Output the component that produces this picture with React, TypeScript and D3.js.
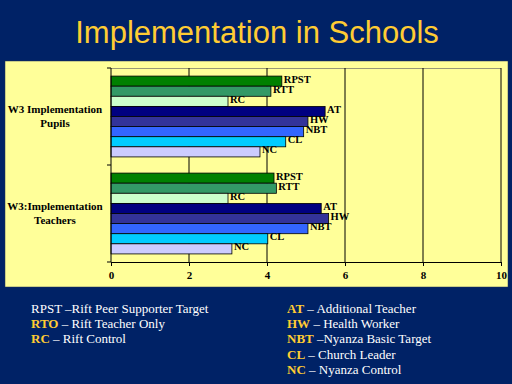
import React, { useRef, useEffect } from "react";
import * as d3 from "d3";

const groups = ["W3 Implementation|Pupils", "W3:Implementation|Teachers"];
const series = ["RPST", "RTT", "RC", "AT", "HW", "NBT", "CL", "NC"];
const colors = ["#008000", "#339966", "#CCFFCC", "#000080", "#333399", "#3366FF", "#00CCFF", "#CCCCFF"];
const pupils = [4.38, 4.1, 3.0, 5.49, 5.05, 4.94, 4.48, 3.82];
const teachers = [4.18, 4.24, 3.0, 5.39, 5.58, 5.05, 4.02, 3.1];
const xTicks = [0, 2, 4, 6, 8, 10];

const legendLeft = [
  ["", "RPST –Rift Peer Supporter Target"],
  ["RTO", " – Rift Teacher Only"],
  ["RC", " – Rift Control"],
];
const legendRight = [
  ["AT", " –  Additional Teacher"],
  ["HW", " – Health Worker"],
  ["NBT", " –Nyanza Basic Target"],
  ["CL", " –   Church Leader"],
  ["NC", " –   Nyanza Control"],
];

const SERIF = "'Liberation Serif', 'Times New Roman', serif";

const App = () => {
  const ref = useRef(null);

  useEffect(() => {
    const svg = d3.select(ref.current);
    svg.selectAll("*").remove();

    svg.append("rect").attr("width", 512).attr("height", 384).attr("fill", "#002266");

    // title
    svg
      .append("text")
      .attr("x", 257)
      .attr("y", 43)
      .attr("text-anchor", "middle")
      .style("font-family", "'Liberation Sans', Arial, sans-serif")
      .attr("font-size", 31)
      .attr("fill", "#FFCC33")
      .text("Implementation in Schools");

    // chart panel
    svg
      .append("rect")
      .attr("x", 5)
      .attr("y", 61)
      .attr("width", 503)
      .attr("height", 226)
      .attr("fill", "#FFFF99")
      .attr("stroke", "#223355")
      .attr("stroke-width", 0.5);

    const x = d3.scaleLinear().domain([0, 10]).range([111, 501]);
    const y = d3.scaleBand().domain(groups).range([68, 262]);
    const inner = d3
      .scaleBand()
      .domain(series)
      .range([0, y.bandwidth()])
      .paddingOuter(0.8);

    const chart = svg.append("g");

    // plot area top border
    chart
      .append("line")
      .attr("x1", x(0))
      .attr("x2", x(10))
      .attr("y1", 68.5)
      .attr("y2", 68.5)
      .attr("stroke", "#999977");

    // gridlines
    chart
      .selectAll(".grid")
      .data(xTicks.slice(1))
      .enter()
      .append("line")
      .attr("x1", (d) => x(d))
      .attr("x2", (d) => x(d))
      .attr("y1", 68)
      .attr("y2", 262)
      .attr("stroke", "#000")
      .attr("stroke-width", 1);

    const data = [pupils, teachers];
    groups.forEach((g, gi) => {
      const gg = chart.append("g").attr("transform", `translate(0,${y(g)})`);
      series.forEach((s, i) => {
        const v = data[gi][i];
        gg.append("rect")
          .attr("x", x(0))
          .attr("y", inner(s))
          .attr("width", x(v) - x(0))
          .attr("height", inner.bandwidth())
          .attr("fill", colors[i])
          .attr("stroke", "#000")
          .attr("stroke-width", 0.8);
        gg.append("text")
          .attr("x", x(v) + 2)
          .attr("y", inner(s) + inner.bandwidth() / 2 + 1.5)
          .style("font-family", SERIF)
          .attr("font-weight", "bold")
          .attr("font-size", 10.5)
          .attr("fill", "#000")
          .text(s);
      });
      const [l1, l2] = g.split("|");
      const cy = y(g) + y.bandwidth() / 2;
      const t = chart
        .append("text")
        .attr("text-anchor", "middle")
        .style("font-family", SERIF)
        .attr("font-weight", "bold")
        .attr("font-size", 11)
        .attr("fill", "#000");
      t.append("tspan").attr("x", 55).attr("y", cy - 4).text(l1);
      t.append("tspan").attr("x", 55).attr("y", cy + 10).text(l2);
    });

    // y axis
    chart
      .append("line")
      .attr("x1", x(0))
      .attr("x2", x(0))
      .attr("y1", 68)
      .attr("y2", 262)
      .attr("stroke", "#000");
    chart
      .selectAll(".ytick")
      .data([68, y(groups[1]), 262])
      .enter()
      .append("line")
      .attr("x1", x(0) - 4)
      .attr("x2", x(0))
      .attr("y1", (d) => d)
      .attr("y2", (d) => d)
      .attr("stroke", "#000");

    // x axis
    const xAxis = chart
      .append("g")
      .attr("transform", "translate(0,262)")
      .call(d3.axisBottom(x).tickValues(xTicks).tickSize(4).tickSizeOuter(0));
    xAxis.select(".domain").attr("stroke", "#000");
    xAxis.selectAll("line").attr("stroke", "#000");
    xAxis
      .selectAll("text")
      .style("font-family", SERIF)
      .attr("font-weight", "bold")
      .attr("font-size", 11)
      .attr("fill", "#000")
      .attr("dy", "0.9em");

    // legend
    const drawLegend = (items, lx) => {
      items.forEach(([abbr, rest], i) => {
        const t = svg
          .append("text")
          .attr("x", lx)
          .attr("y", 313 + i * 15.2)
          .style("font-family", SERIF)
          .attr("font-size", 13);
        if (abbr)
          t.append("tspan").attr("font-weight", "bold").attr("fill", "#FFCC33").text(abbr);
        t.append("tspan").attr("fill", "#FFFFFF").text(rest);
      });
    };
    drawLegend(legendLeft, 31);
    drawLegend(legendRight, 287);
  }, []);

  return (
    <svg
      ref={ref}
      width={512}
      height={384}
      style={{ position: "absolute", left: 0, top: 0 }}
    />
  );
};

export default App;
